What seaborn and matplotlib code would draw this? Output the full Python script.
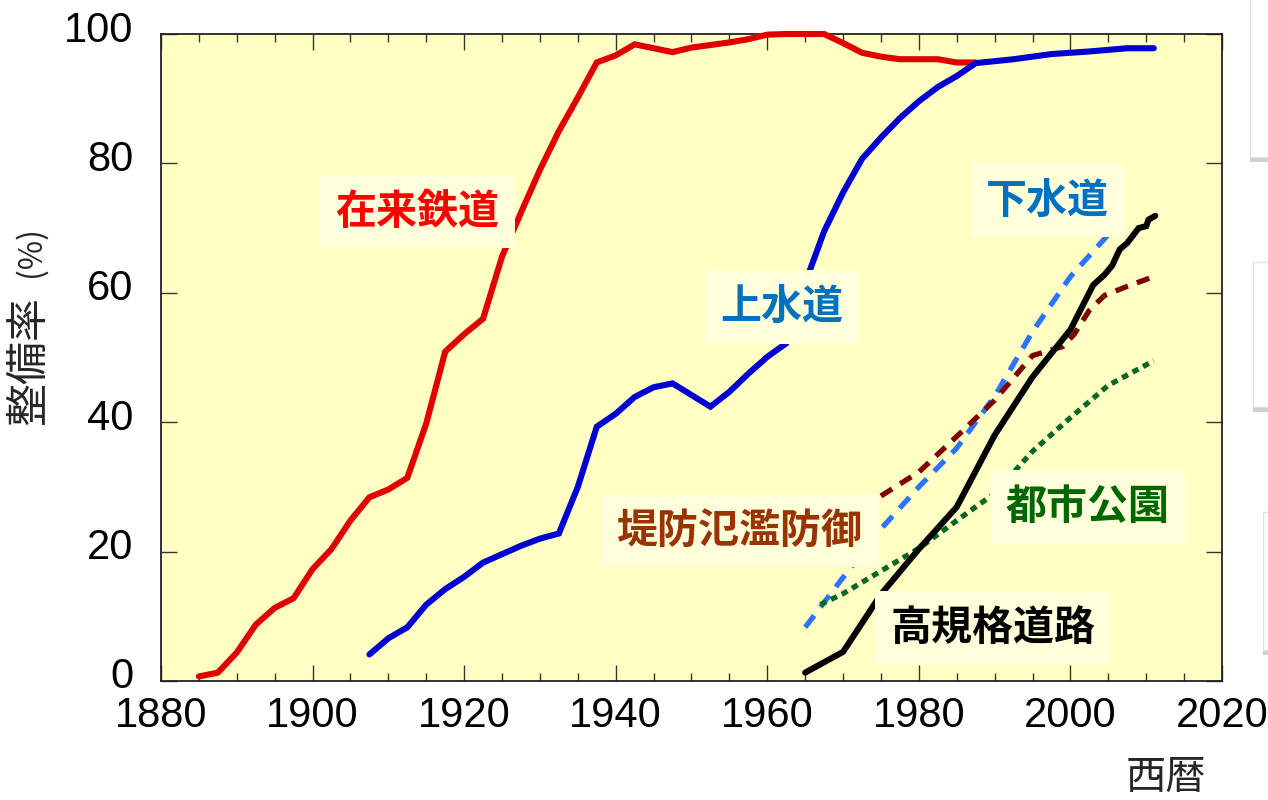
import numpy as np
import pandas as pd
import matplotlib
matplotlib.use("Agg")
import matplotlib.pyplot as plt
from matplotlib.patches import Rectangle
from matplotlib.ticker import MultipleLocator
from matplotlib.transforms import ScaledTranslation
import seaborn as sns

# ---------------- data ----------------
rail_year = [1885, 1887.5, 1890, 1892.5, 1895, 1897.5, 1900, 1902.5, 1905, 1907.5,
             1910, 1912.5, 1915, 1917.5, 1920, 1922.5, 1925, 1927.5, 1930, 1932.5,
             1935, 1937.5, 1940, 1942.5, 1945, 1947.5, 1950, 1952.5, 1955, 1957.5,
             1960, 1962.5, 1965, 1967.5, 1970, 1972.5, 1975, 1977.5, 1980, 1982.5,
             1985, 1987.5]
rail_val = [0.7, 1.3, 4.4, 8.7, 11.3, 12.8, 17.3, 20.4, 24.8, 28.4,
            29.6, 31.4, 39.8, 50.9, 53.6, 56.0, 65.6, 72.4, 79.0, 85.0,
            90.2, 95.6, 96.7, 98.4, 97.8, 97.2, 97.9, 98.3, 98.7, 99.2,
            99.9, 100.0, 100.0, 100.0, 98.6, 97.1, 96.5, 96.1, 96.1, 96.1,
            95.6, 95.6]

water_year = [1907.5, 1910, 1912.5, 1915, 1917.5, 1920, 1922.5, 1925, 1927.5, 1930,
              1932.5, 1935, 1937.5, 1940, 1942.5, 1945, 1947.5, 1952.5, 1955, 1957.5,
              1960, 1962.5, 1965, 1967.5, 1970, 1972.5, 1975, 1977.5, 1980, 1982.5,
              1985, 1987.5, 1992.5, 1997.5, 2002.5, 2007.5, 2011]
water_val = [4.1, 6.6, 8.3, 11.8, 14.2, 16.1, 18.3, 19.6, 20.9, 22.0,
             22.8, 30.0, 39.3, 41.3, 43.9, 45.4, 46.0, 42.4, 44.7, 47.5,
             50.1, 52.2, 61.5, 69.5, 75.5, 80.7, 84.0, 87.0, 89.6, 91.8,
             93.5, 95.5, 96.1, 96.9, 97.3, 97.8, 97.8]

sewer_year = [1965, 1970, 1975, 1980, 1985, 1990, 1995, 2000, 2005]
sewer_val = [8.3, 16.0, 23.5, 30.0, 36.0, 44.0, 54.0, 62.5, 69.0]

levee_year = [1975, 1980, 1985, 1990, 1995, 1999, 2000.5, 2002.5, 2004.5, 2007.5, 2011]
levee_val = [28.6, 32.3, 37.8, 43.4, 50.3, 51.7, 53.6, 57.3, 59.6, 61.0, 62.5]

park_year = [1967, 1970, 1975, 1980, 1985, 1990, 1995, 2000, 2005, 2011]
park_val = [11.8, 13.5, 17.0, 20.5, 24.8, 29.0, 35.5, 40.7, 45.7, 49.5]

road_year = [1965, 1970, 1975, 1980, 1985, 1990, 1995, 2000, 2003, 2004.5, 2005.5,
             2006.5, 2007.5, 2009, 2010, 2010.3, 2011.2]
road_val = [1.3, 4.5, 13.4, 20.4, 26.9, 38.0, 47.0, 54.3, 61.2, 62.8, 64.2,
            66.7, 67.7, 70.0, 70.3, 71.3, 71.9]

x_ticks = [1880, 1900, 1920, 1940, 1960, 1980, 2000, 2020]
y_ticks = [0, 20, 40, 60, 80, 100]

labels = ["在来鉄道", "上水道", "下水道", "堤防氾濫防御", "都市公園", "高規格道路"]
label_x = [1913.8, 1961.9, 1997.0, 1956.4, 2002.2, 1989.8]
label_y = [72.5, 57.8, 74.2, 23.2, 26.9, 8.2]
label_colors = ["#FF0000", "#0070C0", "#0070C0", "#993300", "#006600", "#000000"]

# ---------------- style ----------------
sns.set_style("ticks")
plt.rcParams["font.family"] = ["Liberation Sans", "Noto Sans CJK JP", "DejaVu Sans"]
cjk = ["Noto Sans CJK JP", "DejaVu Sans"]

W, H = 1268, 800
fig = plt.figure(figsize=(W / 100, H / 100), dpi=100)
fig.patch.set_facecolor("white")
ax = fig.add_axes([161 / W, 1 - 681 / H, (1222 - 161) / W, (681 - 34) / H])
ax.set_facecolor("#FFFFC4")

def frame(x, y):
    return pd.DataFrame({"year": x, "value": y})

common = dict(ax=ax, x="year", y="value", errorbar=None, sort=True, clip_on=False)

sns.lineplot(data=frame(rail_year, rail_val), color="#E00000", lw=4.4,
             solid_joinstyle="miter", zorder=3, **common)
sns.lineplot(data=frame(water_year, water_val), color="#0000D0", lw=4.4,
             solid_joinstyle="miter", zorder=3, **common)
sns.lineplot(data=frame(sewer_year, sewer_val), color="#2A74FF", lw=3.8,
             linestyle=(0, (2.8, 2.0)), zorder=4, **common)
sns.lineplot(data=frame(levee_year, levee_val), color="#7F0000", lw=3.8,
             linestyle=(0, (2.5, 1.8)), zorder=4, **common)
sns.lineplot(data=frame(park_year, park_val), color="#0B6623", lw=3.8,
             linestyle=(0, (1.25, 1.0)), zorder=4, **common)
sns.lineplot(data=frame(road_year, road_val), color="#000000", lw=4.4,
             solid_joinstyle="miter", zorder=5, **common)

for txt, lx, ly, c in zip(labels, label_x, label_y, label_colors):
    ax.text(lx, ly, txt, color=c, fontsize=29.5, fontweight="bold", family=cjk,
            ha="center", va="center", zorder=10,
            bbox=dict(boxstyle="square,pad=0.38", facecolor="#FFFFDC", edgecolor="none"))

# ---------------- axes ----------------
ax.set_xlim(1880, 2020)
ax.set_ylim(0, 100)
ax.set_xticks(x_ticks)
ax.set_yticks(y_ticks)
ax.xaxis.set_minor_locator(MultipleLocator(5))
ax.tick_params(axis="both", which="major", direction="in", length=11.5, width=1.0,
               color="#333333", top=True, right=True, labelsize=30, labelcolor="black")
ax.tick_params(axis="x", which="minor", direction="in", length=5.8, width=1.0,
               color="#333333", top=True, bottom=True)
ax.tick_params(axis="x", which="major", pad=11)
ax.tick_params(axis="y", which="major", pad=20)
for s in ax.spines.values():
    s.set_visible(True)
    s.set_color("#222222")
    s.set_linewidth(1.3)

ax.set_ylabel("整備率", fontsize=31, family=cjk)
ax.yaxis.set_label_coords(-0.103, 0.495)
ax.text(-0.1235, 0.664, "(%)", transform=ax.transAxes, rotation=90, fontsize=23,
        family=cjk, ha="center", va="center")
ax.set_xlabel("西暦", fontsize=29, family=cjk)
ax.xaxis.set_label_coords(0.947, -0.118)

# y tick labels sit a little above their ticks in the reference
shift = ScaledTranslation(0, 8 / 100, fig.dpi_scale_trans)
for lab in ax.get_yticklabels():
    lab.set_transform(lab.get_transform() + shift)

# ---------------- partial boxes at the right edge of the slide ----------------
def side_box(x0, y0, y1):
    fig.add_artist(Rectangle((x0 / W, 1 - (y1 + 5) / H), (W - x0) / W, 6 / H,
                             transform=fig.transFigure, facecolor="#BDBDBD",
                             edgecolor="none", alpha=0.7))
    fig.add_artist(Rectangle((x0 / W, 1 - y1 / H), (W - x0 + 5) / W, (y1 - y0) / H,
                             transform=fig.transFigure, facecolor="white",
                             edgecolor="#E2E2E2", lw=1.0))

side_box(1250, -5, 157)
side_box(1253, 262, 407)
side_box(1263, 512, 650)

fig.savefig("out.png", dpi=100, facecolor="white")
